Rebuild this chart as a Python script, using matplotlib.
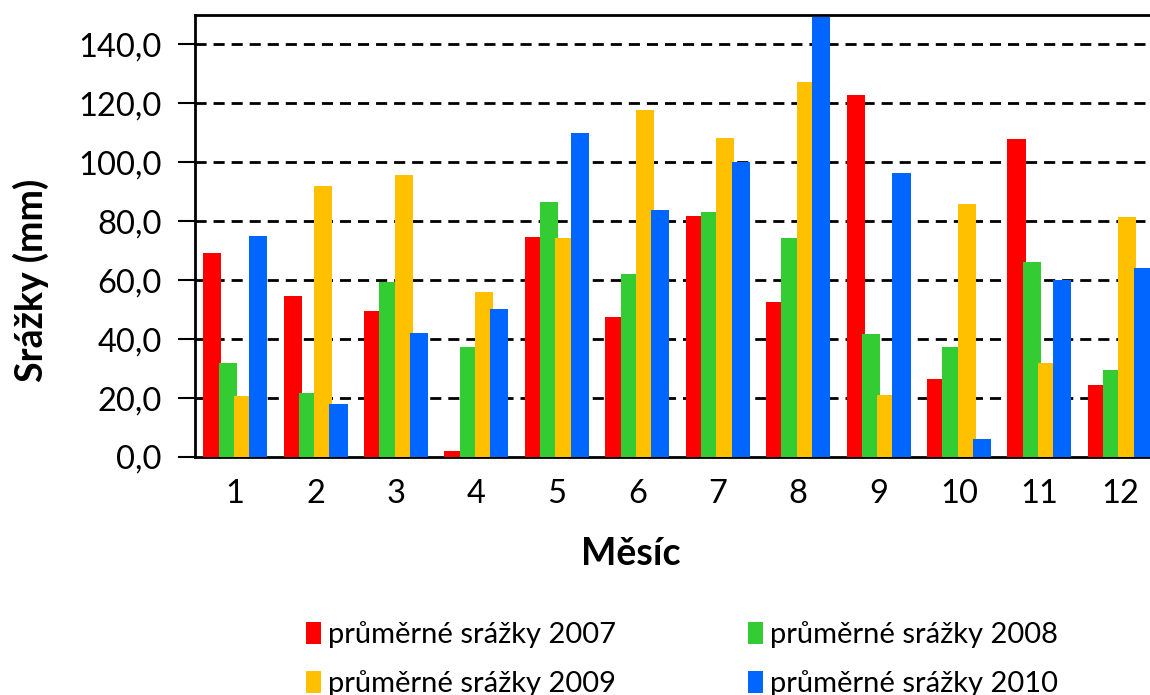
import matplotlib.pyplot as plt
import numpy as np

plt.rcParams['font.family'] = ['Lato', 'DejaVu Sans']

months = [1, 2, 3, 4, 5, 6, 7, 8, 9, 10, 11, 12]
srazky_2007 = [69.1, 54.5, 49.7, 2.2, 74.6, 47.6, 81.7, 52.5, 122.9, 26.4, 108.0, 24.3]
srazky_2008 = [32.0, 21.8, 59.4, 37.2, 86.4, 62.2, 83.1, 74.3, 41.7, 37.4, 66.3, 29.5]
srazky_2009 = [20.7, 91.8, 95.7, 56.1, 74.4, 117.7, 108.3, 127.2, 21.0, 85.9, 32.0, 81.4]
srazky_2010 = [74.9, 18.1, 42.1, 50.3, 110.0, 83.9, 100.1, 149.4, 96.4, 6.0, 60.1, 64.2]

series = [
    (srazky_2007, '#FF0000', 'průměrné srážky 2007'),
    (srazky_2008, '#33CC33', 'průměrné srážky 2008'),
    (srazky_2009, '#FFC000', 'průměrné srážky 2009'),
    (srazky_2010, '#0066FF', 'průměrné srážky 2010'),
]

fig = plt.figure(figsize=(11.5, 6.95), dpi=100)
# axes runs a bit past the right edge of the figure
ax = fig.add_axes([195 / 1150, 238 / 695, 965 / 1150, 442 / 695])

x = np.arange(len(months))
step = 0.19
width = 0.225
handles = []
for i, (vals, col, lab) in enumerate(series):
    b = ax.bar(x + (i - 1.5) * step, vals, width, color=col, label=lab, zorder=3)
    handles.append(b)

ax.set_xlim(-0.5, len(months) - 0.5)
ax.set_ylim(0, 150)
yt = np.arange(0, 141, 20)
ax.set_yticks(yt)
ax.set_yticklabels([f'{v:.1f}'.replace('.', ',') for v in yt])
ax.set_xticks(x)
ax.set_xticklabels([str(m) for m in months])

for v in range(20, 141, 20):
    ax.axhline(v, color='black', lw=2, ls=(0, (4, 2.5)), zorder=1)

for s in ['left', 'bottom', 'top', 'right']:
    ax.spines[s].set_linewidth(2)
ax.tick_params(axis='y', direction='out', length=12, width=1.5, labelsize=23.5, pad=12)
ax.tick_params(axis='x', length=0, labelsize=23.5, pad=16)

ax.set_ylabel('Srážky (mm)', fontsize=27, fontweight='bold', va='center')
ax.yaxis.set_label_coords(-0.17, 0.40)
ax.set_xlabel('Měsíc', fontsize=27, fontweight='bold', va='center')
ax.xaxis.set_label_coords(0.452, -0.22)

# legend fills by column, so order handles to read row by row
order = [0, 2, 1, 3]
fig.legend([handles[k] for k in order], [series[k][2] for k in order],
           loc='upper left', bbox_to_anchor=(0.266, 0.106),
           ncol=2, frameon=False, fontsize=21, handlelength=0.52, handleheight=0.75,
           handletextpad=0.25, columnspacing=4.5, labelspacing=0.75,
           borderpad=0, borderaxespad=0)

fig.savefig('out.png', dpi=100)
